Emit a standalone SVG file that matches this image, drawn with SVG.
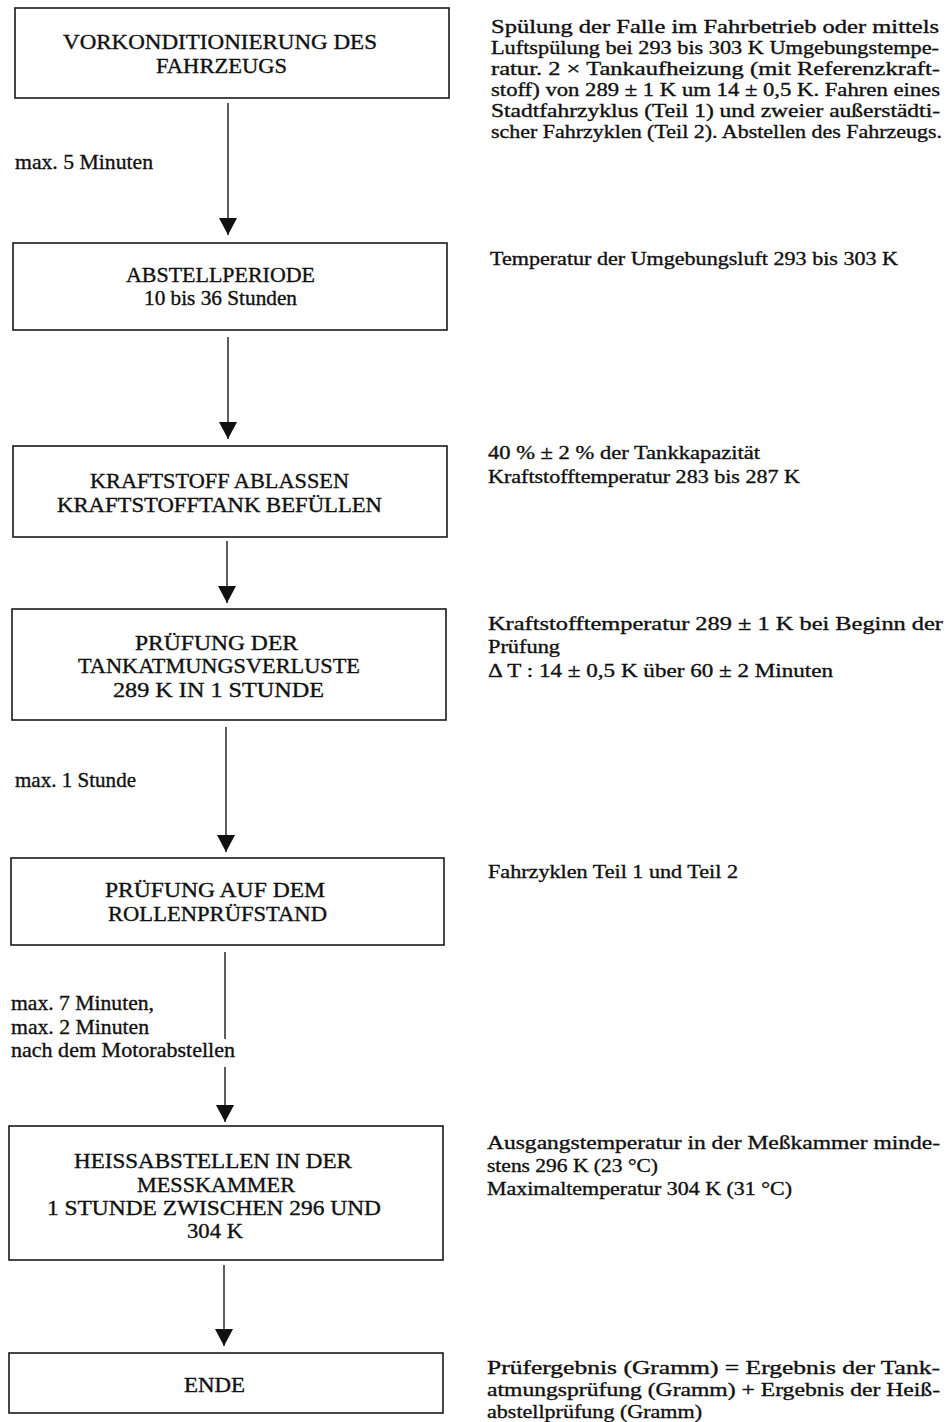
<svg xmlns="http://www.w3.org/2000/svg" width="950" height="1422" viewBox="0 0 950 1422">
<style>
.box{fill:#fff;stroke:#1a1a1a;stroke-width:1.6}
.t{font-family:"Liberation Serif","Times New Roman",serif;font-size:21px;fill:#111;stroke:#111;stroke-width:0.35}
.r{font-family:"Liberation Serif","Times New Roman",serif;font-size:19px;fill:#111;stroke:#111;stroke-width:0.35}
.conn{fill:none;stroke:#1a1a1a;stroke-width:1.4}
</style>
<defs>
<marker id="ah" markerUnits="userSpaceOnUse" viewBox="0 0 17 18" refX="17" refY="9" markerWidth="17" markerHeight="18" orient="auto">
<path d="M0,0 L17,9 L0,18 z" fill="#111"/>
</marker>
</defs>
<rect width="950" height="1422" fill="#fff"/>

<g id="connectors">
<path class="conn" d="M228,103 V235" marker-end="url(#ah)"/>
<path class="conn" d="M228,337 V439" marker-end="url(#ah)"/>
<path class="conn" d="M227,541 V603" marker-end="url(#ah)"/>
<path class="conn" d="M226,727 V852" marker-end="url(#ah)"/>
<path class="conn" d="M225,952 V1039 M225,1067 V1122" marker-end="url(#ah)"/>
<path class="conn" d="M224,1265 V1346" marker-end="url(#ah)"/>
</g>

<g id="edge-labels">
<text class="t" x="15" y="169" textLength="138" lengthAdjust="spacingAndGlyphs">max. 5 Minuten</text>
<text class="t" x="15" y="787" textLength="121" lengthAdjust="spacingAndGlyphs">max. 1 Stunde</text>
<text class="t"><tspan x="11" y="1010" textLength="143" lengthAdjust="spacingAndGlyphs">max. 7 Minuten,</tspan><tspan x="11" y="1034" textLength="138" lengthAdjust="spacingAndGlyphs">max. 2 Minuten</tspan><tspan x="11" y="1057" textLength="224" lengthAdjust="spacingAndGlyphs">nach dem Motorabstellen</tspan></text>
</g>

<g id="n1">
<rect class="box" x="15" y="8" width="434" height="90"/>
<text class="t"><tspan x="63" y="49" textLength="314" lengthAdjust="spacingAndGlyphs">VORKONDITIONIERUNG DES</tspan><tspan x="156" y="73" textLength="131" lengthAdjust="spacingAndGlyphs">FAHRZEUGS</tspan></text>
</g>
<g id="n2">
<rect class="box" x="13" y="243" width="434" height="87"/>
<text class="t"><tspan x="126" y="282" textLength="189" lengthAdjust="spacingAndGlyphs">ABSTELLPERIODE</tspan><tspan x="144" y="305" textLength="153" lengthAdjust="spacingAndGlyphs">10 bis 36 Stunden</tspan></text>
</g>
<g id="n3">
<rect class="box" x="13" y="446" width="434" height="91"/>
<text class="t"><tspan x="90" y="488" textLength="259" lengthAdjust="spacingAndGlyphs">KRAFTSTOFF ABLASSEN</tspan><tspan x="57" y="512" textLength="325" lengthAdjust="spacingAndGlyphs">KRAFTSTOFFTANK BEFÜLLEN</tspan></text>
</g>
<g id="n4">
<rect class="box" x="12" y="609" width="434" height="111"/>
<text class="t"><tspan x="135" y="650" textLength="163" lengthAdjust="spacingAndGlyphs">PRÜFUNG DER</tspan><tspan x="78" y="673" textLength="282" lengthAdjust="spacingAndGlyphs">TANKATMUNGSVERLUSTE</tspan><tspan x="113" y="697" textLength="211" lengthAdjust="spacingAndGlyphs">289 K IN 1 STUNDE</tspan></text>
</g>
<g id="n5">
<rect class="box" x="11" y="858" width="433" height="87"/>
<text class="t"><tspan x="105" y="897" textLength="220" lengthAdjust="spacingAndGlyphs">PRÜFUNG AUF DEM</tspan><tspan x="108" y="921" textLength="219" lengthAdjust="spacingAndGlyphs">ROLLENPRÜFSTAND</tspan></text>
</g>
<g id="n6">
<rect class="box" x="9" y="1126" width="434" height="134"/>
<text class="t"><tspan x="74" y="1168" textLength="278" lengthAdjust="spacingAndGlyphs">HEISSABSTELLEN IN DER</tspan><tspan x="137" y="1192" textLength="158" lengthAdjust="spacingAndGlyphs">MESSKAMMER</tspan><tspan x="47" y="1215" textLength="334" lengthAdjust="spacingAndGlyphs">1 STUNDE ZWISCHEN 296 UND</tspan><tspan x="187" y="1238" textLength="56" lengthAdjust="spacingAndGlyphs">304 K</tspan></text>
</g>
<g id="n7">
<rect class="box" x="9" y="1353" width="434" height="60"/>
<text class="t" x="184" y="1392" textLength="61" lengthAdjust="spacingAndGlyphs">ENDE</text>
</g>

<g id="notes">
<text class="r"><tspan x="491" y="33" textLength="448" lengthAdjust="spacingAndGlyphs">Spülung der Falle im Fahrbetrieb oder mittels</tspan><tspan x="491" y="54" textLength="448" lengthAdjust="spacingAndGlyphs">Luftspülung bei 293 bis 303 K Umgebungstempe-</tspan><tspan x="491" y="75" textLength="449" lengthAdjust="spacingAndGlyphs">ratur. 2 × Tankaufheizung (mit Referenzkraft-</tspan><tspan x="491" y="96" textLength="449" lengthAdjust="spacingAndGlyphs">stoff) von 289 ± 1 K um 14 ± 0,5 K. Fahren eines</tspan><tspan x="491" y="117" textLength="449" lengthAdjust="spacingAndGlyphs">Stadtfahrzyklus (Teil 1) und zweier außerstädti-</tspan><tspan x="491" y="138" textLength="451" lengthAdjust="spacingAndGlyphs">scher Fahrzyklen (Teil 2). Abstellen des Fahrzeugs.</tspan></text>

<text class="r" x="490" y="265" textLength="408" lengthAdjust="spacingAndGlyphs">Temperatur der Umgebungsluft 293 bis 303 K</text>

<text class="r"><tspan x="488" y="459" textLength="272" lengthAdjust="spacingAndGlyphs">40 % ± 2 % der Tankkapazität</tspan><tspan x="488" y="483" textLength="312" lengthAdjust="spacingAndGlyphs">Kraftstofftemperatur 283 bis 287 K</tspan></text>

<text class="r"><tspan x="488" y="630" textLength="455" lengthAdjust="spacingAndGlyphs">Kraftstofftemperatur 289 ± 1 K bei Beginn der</tspan><tspan x="488" y="653" textLength="72" lengthAdjust="spacingAndGlyphs">Prüfung</tspan><tspan x="488" y="677" textLength="345" lengthAdjust="spacingAndGlyphs">Δ T : 14 ± 0,5 K über 60 ± 2 Minuten</tspan></text>

<text class="r" x="488" y="878" textLength="250" lengthAdjust="spacingAndGlyphs">Fahrzyklen Teil 1 und Teil 2</text>

<text class="r"><tspan x="487" y="1149" textLength="453" lengthAdjust="spacingAndGlyphs">Ausgangstemperatur in der Meßkammer minde-</tspan><tspan x="487" y="1172" textLength="171" lengthAdjust="spacingAndGlyphs">stens 296 K (23 °C)</tspan><tspan x="487" y="1195" textLength="305" lengthAdjust="spacingAndGlyphs">Maximaltemperatur 304 K (31 °C)</tspan></text>

<text class="r"><tspan x="487" y="1374" textLength="453" lengthAdjust="spacingAndGlyphs">Prüfergebnis (Gramm) = Ergebnis der Tank-</tspan><tspan x="487" y="1396" textLength="453" lengthAdjust="spacingAndGlyphs">atmungsprüfung (Gramm) + Ergebnis der Heiß-</tspan><tspan x="487" y="1418" textLength="215" lengthAdjust="spacingAndGlyphs">abstellprüfung (Gramm)</tspan></text>
</g>
</svg>
